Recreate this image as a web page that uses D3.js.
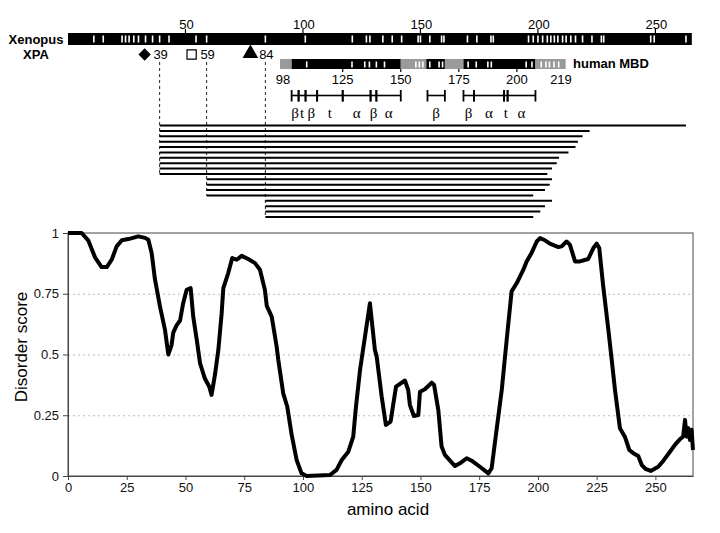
<!DOCTYPE html>
<html>
<head>
<meta charset="utf-8">
<script src="https://cdn.jsdelivr.net/npm/d3@7"></script>
<style>
  body { margin: 0; background: #fff; }
  svg { font-family: 'Liberation Sans', Arial, sans-serif; }
  .grid line { stroke: #bbb; stroke-dasharray: 2,3; }
  .grid .domain { display: none; }
  .axis .domain { stroke: #444; }
  .axis line { stroke: #444; }
  .axis text { font-size: 13px; fill: #111; }
  .greek { font-family: 'Liberation Serif', 'DejaVu Serif', serif; font-size: 15px; }
</style>
</head>
<body>
<svg width="720" height="533"></svg>
<script>
// disorder curve (residue, score)
const residue = [0, 5.8, 8.6, 11.5, 14.3, 16.5, 18.6, 20.7, 22.9, 25.7, 29.9, 32.8, 34.2, 35.6, 37, 39.1,
  41.3, 42.7, 44.1, 44.8, 46.2, 47.7, 49, 50.5, 52.2, 53.3, 54.8, 56.2, 58.3, 60.1, 61.1, 62.6, 64,
  65.4, 66.1, 68.2, 69.9, 71.8, 73.9, 76.7, 79.6, 81.7, 83.8, 84.6, 86.7, 88.8, 89.5, 91.6, 93.3,
  95.2, 97.3, 99.4, 101.6, 111.5, 114.3, 116.5, 119.3, 121.4, 122.5, 124.3, 126.5, 128.5, 130.6,
  131.4, 133.5, 135.3, 137.3, 139.6, 143.4, 144.8, 145.5, 147.2, 149.1, 149.8, 151.9, 154.8, 155.8,
  157.6, 159, 160.4, 164.7, 166.8, 169.7, 171.8, 175.3, 178.9, 180.3, 182.4, 184.6, 186.7, 188.8,
  191, 193.8, 195.2, 197.3, 199.5, 200.9, 203, 205.1, 208.7, 210.1, 212.2, 213.6, 215.8, 217.9,
  221.4, 223.6, 225, 226.1, 227.8, 230, 231.5, 232.8, 234.9, 237, 238.9, 240.6, 242.7, 244.2, 246,
  248, 251.2, 253.4, 256.2, 258.3, 260.4, 261.8, 262.6, 263.3, 264, 264.7, 265.4, 266];
const score = [1, 1, 0.97, 0.9, 0.86, 0.86, 0.89, 0.945, 0.97, 0.975, 0.986, 0.98, 0.972, 0.918, 0.81, 0.7,
  0.6, 0.5, 0.54, 0.59, 0.62, 0.64, 0.71, 0.766, 0.773, 0.656, 0.56, 0.464, 0.4, 0.368, 0.334, 0.42, 0.52,
  0.67, 0.773, 0.835, 0.897, 0.89, 0.906, 0.893, 0.876, 0.849, 0.766, 0.7, 0.656, 0.533, 0.478, 0.34, 0.286,
  0.169, 0.066, 0.011, 0, 0.004, 0.025, 0.066, 0.1, 0.162, 0.28, 0.437, 0.58, 0.711, 0.52,
  0.49, 0.327, 0.21, 0.224, 0.368, 0.393, 0.354, 0.293, 0.247, 0.251, 0.347, 0.357, 0.384, 0.375,
  0.272, 0.121, 0.087, 0.041, 0.052, 0.073, 0.063, 0.038, 0.011, 0.032, 0.19, 0.354, 0.56, 0.76,
  0.794, 0.849, 0.883, 0.918, 0.965, 0.979, 0.97, 0.956, 0.942, 0.945, 0.965, 0.952, 0.883, 0.883,
  0.893, 0.938, 0.956, 0.938, 0.78, 0.6, 0.47, 0.354, 0.197, 0.162, 0.107, 0.094, 0.082, 0.045, 0.028,
  0.021, 0.038, 0.063, 0.1, 0.128, 0.151, 0.162, 0.231, 0.162, 0.197, 0.148, 0.19, 0.107];

const xTicks = [0, 25, 50, 75, 100, 125, 150, 175, 200, 225, 250];
const yTicks = [0, 0.25, 0.5, 0.75, 1];
const yTickLabels = ['0', '0.25', '0.5', '0.75', '1'];

// Xenopus XPA bar
const xenopusLength = 265.5;
const xenopusTicks = [50, 100, 150, 200, 250];
const xenopusMarks = [11, 15, 23, 24.5, 26, 28, 30, 33, 36, 39, 43, 54.5, 59, 84, 101, 121, 127, 128.5,
  134, 138, 142, 149, 150, 154, 159, 160, 170, 174, 180, 181, 196, 198, 200, 202, 204, 205.5, 207,
  208.5, 210.5, 212, 214, 216, 219, 223, 227, 228, 248, 249.5, 263];

// sites
const siteResidue = [39, 59, 84];
const siteSymbol = ['diamond', 'square', 'triangle'];

// human MBD bar
const mbdBreaks = [98, 103, 150, 161, 169, 177, 208, 221];
const mbdShade = ['#9a9a9a', '#000', '#9a9a9a', '#000', '#9a9a9a', '#000', '#9a9a9a'];
const mbdMarks = [109.5, 129, 134.5, 136.5, 139.5, 143, 156.5, 158, 159.5, 162.5, 166.5, 168, 179, 182.5,
  187.5, 189, 204, 206.5, 210.5, 212.5, 214, 216, 218];
const mbdLabels = [98, 125, 150, 175, 200, 219];

// secondary structure (human numbering)
const ssType = ['β', 't', 'β', 't', 'α', 'β', 'α', 'β', 'β', 'α', 't', 'α'];
const ssStart = [103, 106, 109, 114, 125, 137, 139.5, 161.5, 177, 181.5, 194.5, 196];
const ssEnd = [106, 109, 114, 125, 137, 139.5, 150, 169, 181.5, 194.5, 196, 208];

// constructs (Xenopus numbering)
const constructStart = [39, 39, 39, 39, 39, 39, 39, 39, 39, 39, 59, 59, 59, 59, 84, 84, 84, 84];
const constructEnd = [263, 222, 219, 217, 216, 213, 209, 208, 206, 204, 206, 205, 203, 198, 206, 203, 201, 198];

const svg = d3.select('svg');

const x = d3.scaleLinear().domain([0, 266]).range([68, 693]);
const y = d3.scaleLinear().domain([0, 1]).range([476, 233]);
const xh = d3.scaleLinear().domain([98, 219]).range([280, 561]);
const yc = d3.scalePoint().domain(d3.range(constructStart.length)).range([125.5, 217]);

// ---- top: Xenopus bar
svg.append('text').attr('x', 36).attr('y', 43.5).attr('text-anchor', 'middle')
  .style('font-weight', 'bold').style('font-size', '13px').text('Xenopus');
svg.append('text').attr('x', 36).attr('y', 58.5).attr('text-anchor', 'middle')
  .style('font-weight', 'bold').style('font-size', '13px').text('XPA');

svg.append('rect')
  .attr('x', x(0)).attr('y', 33)
  .attr('width', x(xenopusLength) - x(0)).attr('height', 12)
  .attr('fill', '#000');

svg.selectAll('.xmark').data(xenopusMarks).enter().append('rect')
  .attr('class', 'xmark')
  .attr('x', (d) => x(d) - 0.8).attr('y', 35.5)
  .attr('width', 1.6).attr('height', 7)
  .attr('fill', '#fff');

svg.selectAll('.xtick').data(xenopusTicks).enter().append('line')
  .attr('class', 'xtick')
  .attr('x1', (d) => x(d)).attr('x2', (d) => x(d))
  .attr('y1', 29).attr('y2', 33)
  .attr('stroke', '#000').attr('stroke-width', 1.2);

svg.selectAll('.xticklabel').data(xenopusTicks).enter().append('text')
  .attr('class', 'xticklabel')
  .attr('x', (d) => x(d) + 1).attr('y', 28.5)
  .attr('text-anchor', 'middle').style('font-size', '13px')
  .text((d) => d);

// ---- site markers
siteResidue.forEach((r, i) => {
  const cx = x(r) - 15;
  let sym;
  let rot = 0;
  if (siteSymbol[i] === 'diamond') {
    sym = d3.symbol().type(d3.symbolSquare).size(56);
    rot = 45;
  } else if (siteSymbol[i] === 'square') {
    sym = d3.symbol().type(d3.symbolSquare).size(85);
  } else {
    sym = d3.symbol().type(d3.symbolTriangle).size(80);
  }
  svg.append('path')
    .attr('d', sym())
    .attr('transform', `translate(${cx}, ${siteSymbol[i] === 'triangle' ? 53.5 : 54.5}) rotate(${rot})`)
    .attr('fill', siteSymbol[i] === 'square' ? '#fff' : '#000')
    .attr('stroke', '#000').attr('stroke-width', 1.2);
  svg.append('text')
    .attr('x', x(r) + 1).attr('y', 59)
    .attr('text-anchor', 'middle').style('font-size', '13px')
    .text(r);
  const last = d3.max(constructStart.map((s, j) => s === r ? j : -1));
  svg.append('line')
    .attr('x1', x(r)).attr('x2', x(r))
    .attr('y1', 62).attr('y2', yc(last))
    .attr('stroke', '#222').attr('stroke-width', 1)
    .attr('stroke-dasharray', '3,3');
});

// ---- human MBD bar
svg.selectAll('.mbd').data(mbdShade).enter().append('rect')
  .attr('class', 'mbd')
  .attr('x', (d, i) => xh(mbdBreaks[i])).attr('y', 59)
  .attr('width', (d, i) => xh(mbdBreaks[i + 1]) - xh(mbdBreaks[i]))
  .attr('height', 10)
  .attr('fill', (d) => d);

svg.selectAll('.hmark').data(mbdMarks).enter().append('rect')
  .attr('class', 'hmark')
  .attr('x', (d) => xh(d) - 0.8).attr('y', 61.5)
  .attr('width', 1.6).attr('height', 6)
  .attr('fill', '#fff');

svg.selectAll('.htick').data(mbdLabels.slice(1, -1)).enter().append('line')
  .attr('class', 'htick')
  .attr('x1', (d) => xh(d)).attr('x2', (d) => xh(d))
  .attr('y1', 69).attr('y2', 72)
  .attr('stroke', '#000').attr('stroke-width', 1.2);

svg.selectAll('.hlabel').data(mbdLabels).enter().append('text')
  .attr('class', 'hlabel')
  .attr('x', (d) => xh(d) + (d === 98 ? 3 : 0)).attr('y', 83.5)
  .attr('text-anchor', 'middle').style('font-size', '13px')
  .text((d) => d);

svg.append('text').attr('x', 573).attr('y', 68)
  .style('font-weight', 'bold').style('font-size', '13px').text('human MBD');

// ---- secondary structure
const ss = ssType.map((t, i) => ({ type: t, start: ssStart[i], end: ssEnd[i] }));
const ssGroup = svg.append('g');
ssGroup.selectAll('.ssline').data(ss).enter().append('line')
  .attr('x1', (d) => xh(d.start)).attr('x2', (d) => xh(d.end))
  .attr('y1', 95.5).attr('y2', 95.5)
  .attr('stroke', '#000').attr('stroke-width', 1.6);
ssGroup.selectAll('.sstick').data(ss.flatMap((d) => [d.start, d.end])).enter().append('line')
  .attr('x1', (d) => xh(d)).attr('x2', (d) => xh(d))
  .attr('y1', 90).attr('y2', 101.5)
  .attr('stroke', '#000').attr('stroke-width', 1.8);
ssGroup.selectAll('.sslabel').data(ss).enter().append('text')
  .attr('class', 'greek')
  .attr('x', (d) => xh((d.start + d.end) / 2)).attr('y', 118)
  .attr('text-anchor', 'middle')
  .text((d) => d.type);

// ---- constructs
svg.selectAll('.construct').data(constructStart).enter().append('line')
  .attr('class', 'construct')
  .attr('x1', (d) => x(d)).attr('x2', (d, i) => x(constructEnd[i]))
  .attr('y1', (d, i) => yc(i)).attr('y2', (d, i) => yc(i))
  .attr('stroke', '#000').attr('stroke-width', 2);

// ---- disorder plot
svg.append('g').attr('class', 'grid')
  .attr('transform', `translate(${x.range()[0]}, 0)`)
  .call(d3.axisRight(y).tickValues([0.25, 0.5, 0.75]).tickSize(x.range()[1] - x.range()[0]).tickFormat(''));

svg.append('rect')
  .attr('x', x.range()[0]).attr('y', y(1))
  .attr('width', x.range()[1] - x.range()[0]).attr('height', y(0) - y(1))
  .attr('fill', 'none').attr('stroke', '#666').attr('stroke-width', 1.2);

svg.append('g').attr('class', 'axis')
  .attr('transform', `translate(0, ${y(0)})`)
  .call(d3.axisBottom(x).tickValues(xTicks).tickSize(4).tickPadding(3).tickSizeOuter(0));

svg.append('g').attr('class', 'axis')
  .attr('transform', `translate(${x.range()[0]}, 0)`)
  .call(d3.axisLeft(y).tickValues(yTicks).tickSize(5).tickPadding(4).tickSizeOuter(0)
    .tickFormat((d, i) => yTickLabels[i]));

const points = residue.map((r, i) => [r, score[i]]);
svg.append('path')
  .datum(points)
  .attr('fill', 'none')
  .attr('stroke', '#000')
  .attr('stroke-width', 4)
  .attr('stroke-linejoin', 'round')
  .attr('d', d3.line().x((d) => x(d[0])).y((d) => y(d[1])));

svg.append('text')
  .attr('x', 388).attr('y', 515)
  .attr('text-anchor', 'middle').style('font-size', '17px')
  .text('amino acid');

svg.append('text')
  .attr('transform', 'rotate(-90)')
  .attr('x', -347).attr('y', 26.5)
  .attr('text-anchor', 'middle').style('font-size', '17px')
  .text('Disorder score');
</script>
</body>
</html>
